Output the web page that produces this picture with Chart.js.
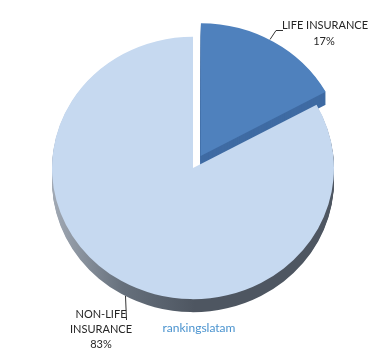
<!DOCTYPE html>
<html>
<head>
<meta charset="utf-8">
<script src="https://cdn.jsdelivr.net/npm/chart.js@4.4.1/dist/chart.umd.min.js"></script>
<style>
html,body{margin:0;padding:0;background:#fff;}
#wrap{position:relative;width:391px;height:361px;}
</style>
</head>
<body>
<div id="wrap"><canvas id="c" width="391" height="361"></canvas></div>
<script>
const categories = ["LIFE INSURANCE", "NON-LIFE INSURANCE"];
const shares = [17, 83];
const percentLabels = ["17%", "83%"];
const topColors = ["#4f81bd", "#c6d9f0"];
const watermark = "rankingslatam";

const YSCALE = 0.93;
const DEPTH = 13;

function sideFill(ctx, i) {
  if (i === 0) return "#3f6ba3";
  const g = ctx.createLinearGradient(50, 0, 340, 0);
  g.addColorStop(0, "#a3abb6");
  g.addColorStop(0.25, "#66707c");
  g.addColorStop(0.5, "#4e5661");
  g.addColorStop(1, "#4e5661");
  return g;
}

const pie3d = {
  id: "pie3d",
  beforeDatasetsDraw(chart) {
    const ctx = chart.ctx;
    const meta = chart.getDatasetMeta(0);
    const arc0 = meta.data[0];
    const cx = arc0.x, cy = arc0.y;
    for (let d = DEPTH; d >= 1; d--) {
      meta.data.forEach((arc, i) => {
        const saved = arc.options.backgroundColor;
        arc.options.backgroundColor = sideFill(ctx, i);
        ctx.save();
        ctx.translate(0, d);
        ctx.translate(cx, cy);
        ctx.scale(1, YSCALE);
        ctx.translate(-cx, -cy);
        arc.draw(ctx);
        ctx.restore();
        arc.options.backgroundColor = saved;
      });
    }
    [1, 0].forEach(i => {
      const arc = meta.data[i];
      ctx.save();
      ctx.translate(cx, cy);
      ctx.scale(1, YSCALE);
      ctx.translate(-cx, -cy);
      arc.draw(ctx);
      ctx.restore();
    });
    return false;
  },
  afterDraw(chart) {
    const ctx = chart.ctx;
    ctx.save();
    ctx.strokeStyle = "#333";
    ctx.lineWidth = 1;
    ctx.beginPath();
    ctx.moveTo(270, 39.5); ctx.lineTo(276, 30.5); ctx.lineTo(283, 30.5);
    ctx.moveTo(125.5, 296); ctx.lineTo(126.5, 320);
    ctx.stroke();
    ctx.fillStyle = "#262626";
    ctx.font = "11px Lato";
    ctx.textAlign = "center";
    ctx.textBaseline = "middle";
    ctx.fillText(categories[0], 325, 25);
    ctx.fillText(percentLabels[0], 324, 41);
    ctx.fillText("NON-LIFE", 101, 314);
    ctx.fillText("INSURANCE", 101, 329);
    ctx.fillText(percentLabels[1], 101, 344);
    ctx.fillStyle = "#4a93cf";
    ctx.font = "12px Lato";
    ctx.fillText(watermark, 199, 328);
    ctx.restore();
  }
};

new Chart(document.getElementById("c"), {
  type: "pie",
  data: {
    labels: categories,
    datasets: [{
      data: shares,
      backgroundColor: topColors,
      borderWidth: 0,
      offset: [60, 0]
    }]
  },
  options: {
    responsive: false,
    animation: false,
    radius: 141,
    layout: { padding: { left: 0, right: 5, top: 0, bottom: 25 } },
    plugins: { legend: { display: false }, tooltip: { enabled: false } }
  },
  plugins: [pie3d]
});
</script>
</body>
</html>
